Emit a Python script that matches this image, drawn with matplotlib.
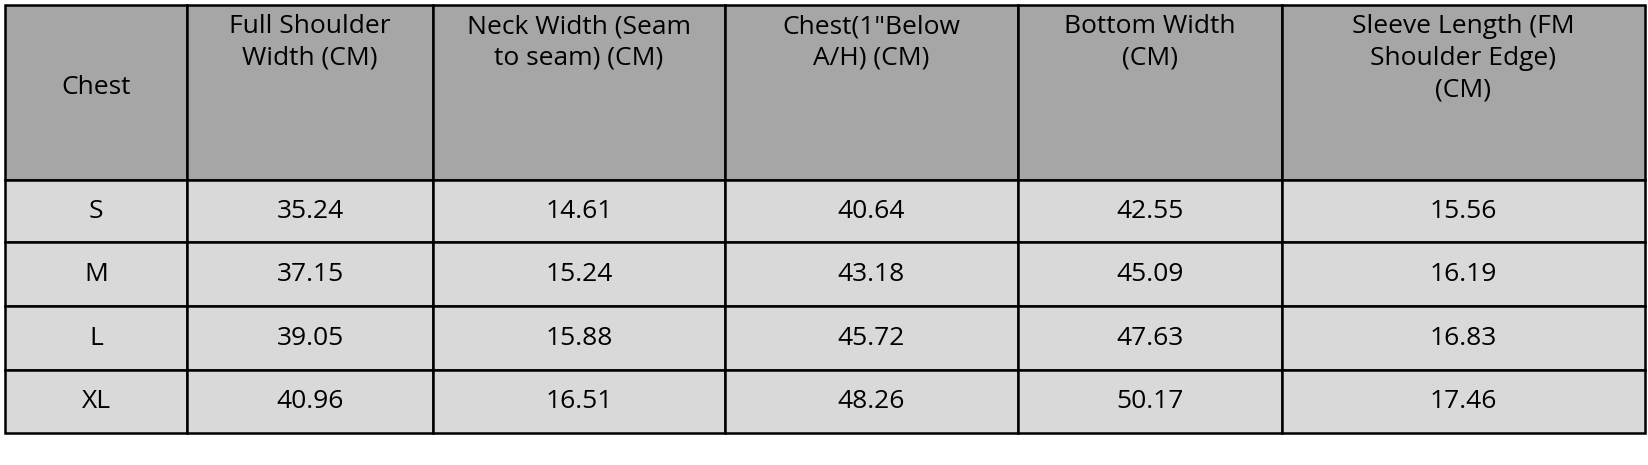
import matplotlib.pyplot as plt
from matplotlib.patches import Rectangle

headers = ["Chest", "Full Shoulder\nWidth (CM)", "Neck Width (Seam\nto seam) (CM)",
           "Chest(1\"Below\nA/H) (CM)", "Bottom Width\n(CM)",
           "Sleeve Length (FM\nShoulder Edge)\n(CM)"]
sizes = ["S", "M", "L", "XL"]
shoulder = ["35.24", "37.15", "39.05", "40.96"]
neck = ["14.61", "15.24", "15.88", "16.51"]
chest = ["40.64", "43.18", "45.72", "48.26"]
bottom = ["42.55", "45.09", "47.63", "50.17"]
sleeve = ["15.56", "16.19", "16.83", "17.46"]

col_edges = [5, 187, 433, 725, 1018, 1282, 1645]
row_edges = [5, 180, 242, 306, 370, 433]

plt.rcParams['font.family'] = ['Open Sans', 'DejaVu Sans']
fig = plt.figure(figsize=(16.49, 4.65), dpi=100)
ax = fig.add_axes([0, 0, 1, 1])
ax.set_xlim(0, 1649)
ax.set_ylim(465, 0)
ax.axis('off')

fs = 19
rows = list(zip(sizes, shoulder, neck, chest, bottom, sleeve))
for r in range(len(row_edges) - 1):
    y0, y1 = row_edges[r], row_edges[r + 1]
    color = '#a6a6a6' if r == 0 else '#d9d9d9'
    for c in range(len(col_edges) - 1):
        x0, x1 = col_edges[c], col_edges[c + 1]
        ax.add_patch(Rectangle((x0, y0), x1 - x0, y1 - y0, facecolor=color,
                               edgecolor='black', linewidth=1.8))
        xc = (x0 + x1) / 2
        if r == 0:
            if c == 0:
                ax.text(xc, 87, headers[c], ha='center', va='center', fontsize=fs)
            else:
                ax.text(xc, 14, headers[c], ha='center', va='top', fontsize=fs,
                        linespacing=1.35)
        else:
            ax.text(xc, (y0 + y1) / 2, rows[r - 1][c], ha='center', va='center', fontsize=fs)

fig.savefig('out.png', dpi=100)
